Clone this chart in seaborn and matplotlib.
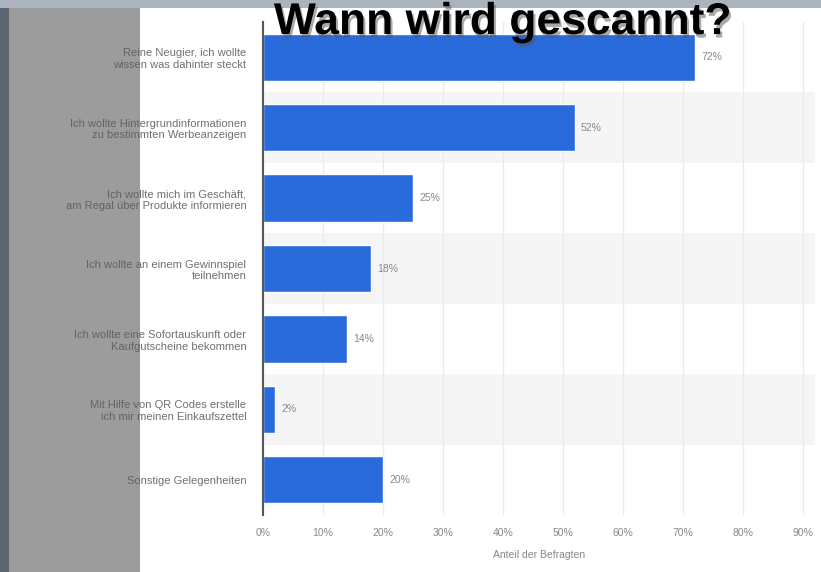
import matplotlib
matplotlib.use("Agg")
import matplotlib.pyplot as plt
import matplotlib.patheffects as pe
from matplotlib.patches import Rectangle
import seaborn as sns
import pandas as pd

categories = [
    "Reine Neugier, ich wollte\nwissen was dahinter steckt",
    "Ich wollte Hintergrundinformationen\nzu bestimmten Werbeanzeigen",
    "Ich wollte mich im Geschäft,\nam Regal über Produkte informieren",
    "Ich wollte an einem Gewinnspiel\nteilnehmen",
    "Ich wollte eine Sofortauskunft oder\nKaufgutscheine bekommen",
    "Mit Hilfe von QR Codes erstelle\nich mir meinen Einkaufszettel",
    "Sonstige Gelegenheiten",
]
values = [72, 52, 25, 18, 14, 2, 20]
tick_values = [0, 10, 20, 30, 40, 50, 60, 70, 80, 90]
tick_labels = ["0%", "10%", "20%", "30%", "40%", "50%", "60%", "70%", "80%", "90%"]
title = "Wann wird gescannt?"
xlabel = "Anteil der Befragten"

df = pd.DataFrame({"cat": categories, "val": values})

sns.set_theme(style="white")
plt.rcParams["font.family"] = ["Liberation Sans", "DejaVu Sans"]

W, H = 821, 572
fig = plt.figure(figsize=(W / 100, H / 100), dpi=100)
fig.patch.set_facecolor("white")

ax_left, ax_right, ax_top, ax_bot = 263, 815, 22, 515
ax = fig.add_axes([ax_left / W, 1 - ax_bot / H, (ax_right - ax_left) / W, (ax_bot - ax_top) / H])

# alternating bands
for i in range(len(categories)):
    if i % 2 == 1:
        ax.axhspan(i - 0.5, i + 0.5, color="#f5f5f5", zorder=0, lw=0)

sns.barplot(data=df, y="cat", x="val", orient="h", color="#2a6bdc",
            width=0.67, ax=ax, zorder=3, saturation=1)

ax.set_xlim(0, 92)
ax.set_ylim(len(categories) - 0.5, -0.5)
ax.set_xticks(tick_values)
ax.set_xticklabels(tick_labels, fontsize=7.5, color="#888888")
ax.tick_params(axis="x", length=0, pad=9)
ax.tick_params(axis="y", length=0, pad=12, labelsize=8, labelcolor="#707070")
for t in ax.get_yticklabels():
    t.set_multialignment("right")
ax.set_ylabel("")
ax.set_xlabel(xlabel, fontsize=7.5, color="#888888", labelpad=9)
ax.xaxis.grid(True, color="#ebebeb", lw=1, zorder=1)
ax.set_axisbelow(True)
for s in ["top", "right", "bottom"]:
    ax.spines[s].set_visible(False)
ax.spines["left"].set_color("#555555")
ax.spines["left"].set_linewidth(1.5)
ax.spines["left"].set_zorder(5)
ax.set_facecolor("white")

for i, v in enumerate(values):
    ax.text(v + 1.0, i, f"{v}%", va="center", ha="left", fontsize=7.5, color="#888888", zorder=4)

# overlay strips
fig.add_artist(Rectangle((9 / W, 0), (140 - 9) / W, 1 - 8 / H, transform=fig.transFigure,
                         facecolor="#5a5a5a", alpha=0.6, lw=0, zorder=10))
fig.add_artist(Rectangle((0, 0), 9 / W, 1, transform=fig.transFigure,
                         facecolor="#5c6670", lw=0, zorder=11))
fig.add_artist(Rectangle((0, 1 - 8 / H), 1, 8 / H, transform=fig.transFigure,
                         facecolor="#aab4be", lw=0, zorder=11))

fig.text(503 / W, 1 - 34 / H, title, ha="center", va="baseline", fontsize=32,
         fontweight="bold", color="black", zorder=20,
         path_effects=[pe.withSimplePatchShadow(offset=(1.5, -2.5), shadow_rgbFace="#555555", alpha=0.5)])

fig.savefig("out.png", dpi=100)
